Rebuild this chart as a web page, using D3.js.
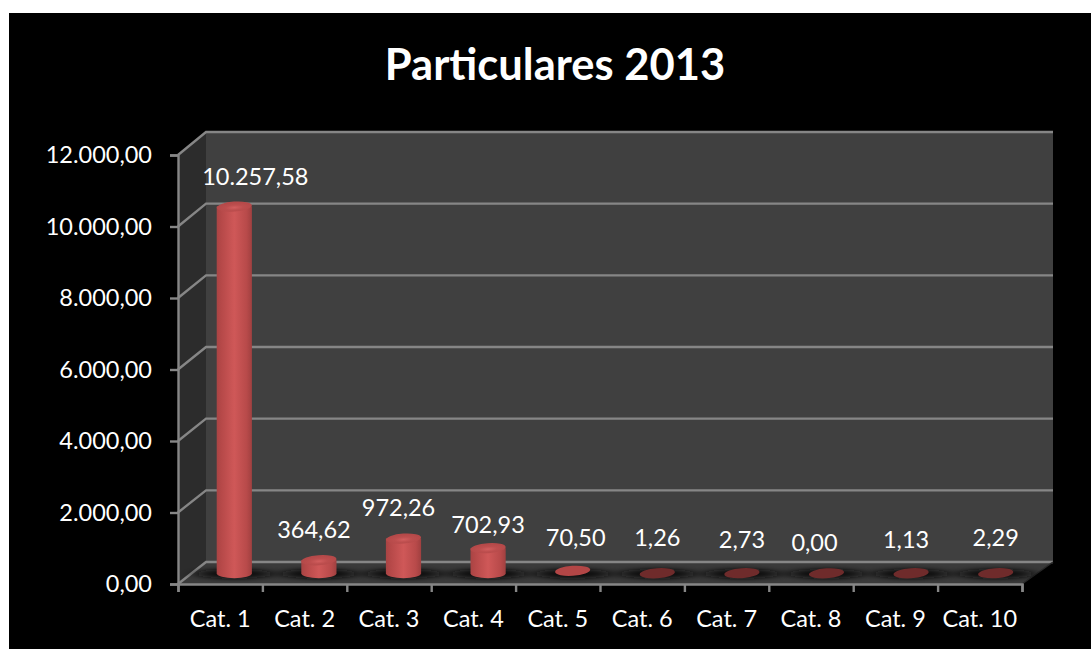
<!DOCTYPE html>
<html><head><meta charset="utf-8">
<script src="https://cdn.jsdelivr.net/npm/d3@7/dist/d3.min.js"></script>
<style>html,body{margin:0;padding:0;background:#fff}svg{display:block}text{font-family:Lato,"Open Sans",sans-serif;fill:#fff}</style>
</head><body><svg id="c" width="1091" height="649"></svg>
<script>
const categories=["Cat. 1","Cat. 2","Cat. 3","Cat. 4","Cat. 5","Cat. 6","Cat. 7","Cat. 8","Cat. 9","Cat. 10"];
const values=[10257.58,364.62,972.26,702.93,70.50,1.26,2.73,0.00,1.13,2.29];
const valueLabels=["10.257,58","364,62","972,26","702,93","70,50","1,26","2,73","0,00","1,13","2,29"];
const tickValues=[0,2000,4000,6000,8000,10000,12000];
const tickLabels=["0,00","2.000,00","4.000,00","6.000,00","8.000,00","10.000,00","12.000,00"];
const title="Particulares 2013";
// manual label placement of the original chart (dx, y centre)
const labelDx=[21,-5,-5,0,3,0,0,-12,-5,0];
const labelY=[177,530,508,525,538,538,540,543,540,538];

const svg=d3.select("#c");
const defs=svg.append("defs");
const g1=defs.append("linearGradient").attr("id","body");
[[0,"#a84444"],[.12,"#b54848"],[.5,"#cf5858"],[.85,"#b84a4a"],[1,"#a04040"]].forEach(s=>g1.append("stop").attr("offset",s[0]).attr("stop-color",s[1]));
const g2=defs.append("radialGradient").attr("id","top").attr("cy",.6);
[[0,"#d25e5e"],[.5,"#bd4e4e"],[1,"#b54949"]].forEach(s=>g2.append("stop").attr("offset",s[0]).attr("stop-color",s[1]));
defs.append("filter").attr("id","blur").attr("x","-40%").attr("width","180%").attr("y","-100%").attr("height","300%")
  .append("feGaussianBlur").attr("stdDeviation","9 2");

svg.append("rect").attr("x",9).attr("y",13).attr("width",1082).attr("height",636).attr("fill","#000");

const frontY=d3.scaleLinear().domain([0,12000]).range([584,155]);
const backY=d3.scaleLinear().domain([0,12000]).range([562,132]);
const barY=d3.scaleLinear().domain([0,12000]).range([573.3,144.3]);
const frontX=d3.scaleBand().domain(categories).range([178,1022]);
const floorX=d3.scaleBand().domain(categories).range([192,1038]);
const edgeX=d3.scaleLinear().domain([0,categories.length]).range([178,1022]);
const fx0=178,fx1=1022,bx0=206,bx1=1053;
const line=d3.line();

// walls
svg.append("path").attr("d",line([[bx0,backY(12000)],[bx1,backY(12000)],[bx1,backY(0)],[bx0,backY(0)]])+"Z").attr("fill","#404040");
svg.append("path").attr("d",line([[fx0,frontY(12000)],[bx0,backY(12000)],[bx0,backY(0)],[fx0,frontY(0)]])+"Z").attr("fill","#2c2c2c");
svg.append("path").attr("d",line([[fx0,frontY(0)],[bx0,backY(0)],[bx1,backY(0)],[fx1,frontY(0)]])+"Z").attr("fill","#3a3a3a");

// gridlines
const grid=svg.append("g").attr("fill","none").attr("stroke","#868686").attr("stroke-width",2.4);
tickValues.forEach(v=>{
  grid.append("path").attr("d",line([[fx0,frontY(v)],[bx0,backY(v)],[bx1,backY(v)]]));
});
svg.append("path").attr("d",line([[fx1,frontY(0)],[bx1,backY(0)]])).attr("stroke","#2a2a2a").attr("stroke-width",1.5);

// floor shadows
svg.append("g").selectAll("ellipse").data(categories).join("ellipse")
  .attr("cx",d=>floorX(d)+floorX.bandwidth()/2).attr("cy",barY(0)+.5)
  .attr("rx",38).attr("ry",5).attr("fill","#0c0c0c").attr("filter","url(#blur)");

// front axes
const yAxis=d3.axisLeft(frontY).tickValues(tickValues).tickSize(8).tickFormat((d,i)=>tickLabels[i]).tickPadding(18);
const yG=svg.append("g").attr("transform","translate(178,0)").call(yAxis);
const xAxis=d3.axisBottom(edgeX).tickValues(d3.range(categories.length+1)).tickSize(8).tickFormat("");
const xG=svg.append("g").attr("transform","translate(0,584)").call(xAxis);
[yG,xG].forEach(g=>{g.selectAll("path,line").attr("stroke","#868686").attr("stroke-width",2.4);});
yG.selectAll("text").attr("font-size",23.5).attr("fill","#fff").style("font-family","Lato");
xG.attr("font-family",null);

// cylinders
const rx=17.6, ry=5, tilt=-4;
const bars=svg.append("g").selectAll("g").data(categories.map((c,i)=>({c,v:values[i],i}))).join("g")
  .attr("transform",d=>`translate(${floorX(d.c)+floorX.bandwidth()/2},0)`);
bars.append("path").attr("fill",d=>d.v<10?"#6b2a2a":"url(#body)")
  .attr("d",d=>{const t=barY(d.v),b=barY(0);
    return `M${-rx},${t}L${-rx},${b}A${rx},${ry} 0 0 0 ${rx},${b}L${rx},${t}Z`;})
  .attr("opacity",d=>d.v<100?0:1);
bars.append("ellipse").attr("rx",rx).attr("ry",ry)
  .attr("transform",d=>`translate(0,${barY(d.v)}) rotate(${tilt})`)
  .attr("fill",d=>d.v<10?"#6f2b2b":d.v<100?"#b34646":"url(#top)");

// value labels
svg.append("g").selectAll("text").data(valueLabels).join("text")
  .attr("x",(d,i)=>floorX(categories[i])+floorX.bandwidth()/2+labelDx[i])
  .attr("y",(d,i)=>labelY[i]).attr("dy","0.35em").attr("text-anchor","middle").attr("font-size",23.5).text(d=>d);

// category labels
svg.append("g").selectAll("text").data(categories).join("text")
  .attr("x",d=>frontX(d)+frontX.bandwidth()/2).attr("y",619).attr("dy","0.35em")
  .attr("text-anchor","middle").attr("font-size",23.5).text(d=>d);

svg.append("text").attr("x",555).attr("y",65).attr("dy","0.35em").attr("text-anchor","middle")
  .attr("font-size",43.5).attr("font-weight",700).text(title);
</script></body></html>
